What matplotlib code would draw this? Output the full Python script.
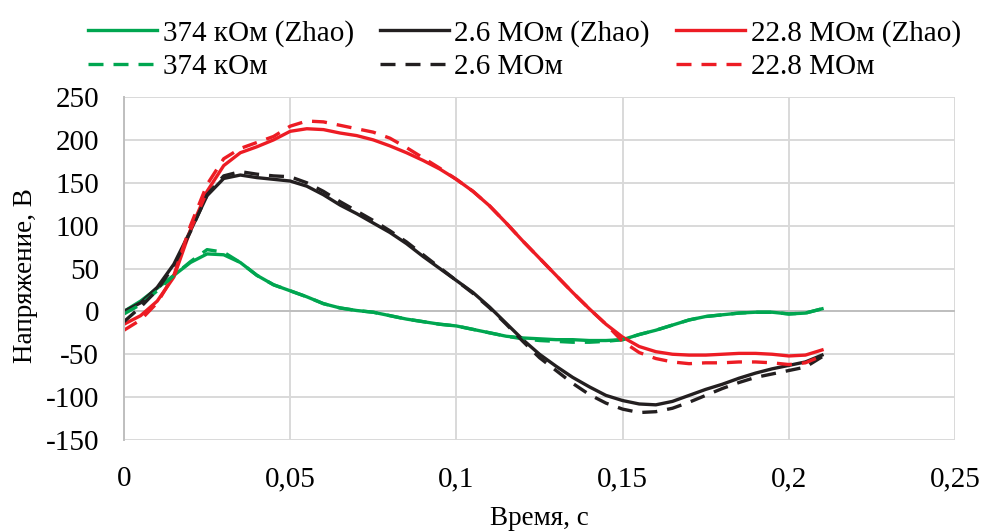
import matplotlib
matplotlib.use("Agg")
import matplotlib.pyplot as plt

plt.rcParams['font.family'] = ['Liberation Serif', 'DejaVu Serif']

# Time axis (s)
t = [0.000, 0.005, 0.010, 0.015, 0.020, 0.025, 0.030, 0.035, 0.040, 0.045,
     0.050, 0.055, 0.060, 0.065, 0.070, 0.075, 0.080, 0.085, 0.090, 0.095,
     0.100, 0.105, 0.110, 0.115, 0.120, 0.125, 0.130, 0.135, 0.140, 0.145,
     0.150, 0.155, 0.160, 0.165, 0.170, 0.175, 0.180, 0.185, 0.190, 0.195,
     0.200, 0.205, 0.210]

# Voltage (V), Zhao model
v_374k_zhao = [0, 12, 27, 42, 57, 67, 66, 57, 42, 31,
               24, 17, 9, 4, 1, -1, -5, -9, -12, -15,
               -17, -21, -25, -29, -31, -32, -33, -33, -34, -34,
               -33, -27, -22, -16, -10, -6, -4, -2, -1, -1,
               -3, -2, 3]
v_2_6M_zhao = [0, 10, 28, 55, 94, 135, 155, 159, 156, 154,
               152, 146, 136, 124, 114, 103, 92, 79, 64, 50,
               36, 22, 5, -14, -33, -50, -64, -77, -88, -98,
               -104, -108, -109, -105, -98, -91, -85, -78, -72, -67,
               -63, -59, -51]
v_22_8M_zhao = [-15, -5, 12, 40, 95, 140, 170, 185, 192, 200,
                210, 213, 212, 208, 205, 200, 193, 185, 176, 166,
                154, 140, 123, 103, 82, 62, 42, 22, 3, -15,
                -30, -41, -47, -50, -51, -51, -50, -49, -49, -50,
                -52, -51, -45]

# Voltage (V), present model
v_374k = [-3, 8, 24, 42, 58, 72, 69, 57, 42, 31,
          24, 17, 9, 4, 1, -1, -5, -9, -12, -15,
          -17, -21, -25, -29, -32, -34, -35, -36, -36, -35,
          -33, -27, -22, -16, -10, -6, -4, -2, -1, -1,
          -3, -2, 3]
v_2_6M = [-12, 5, 25, 53, 93, 136, 158, 163, 160, 158,
          157, 150, 140, 128, 117, 106, 94, 81, 66, 51,
          36, 21, 4, -15, -35, -54, -69, -84, -97, -107,
          -114, -118, -117, -113, -106, -98, -90, -83, -77, -73,
          -69, -65, -53]
v_22_8M = [-22, -10, 10, 42, 100, 148, 178, 190, 197, 204,
           216, 222, 221, 217, 213, 209, 202, 191, 179, 167,
           154, 140, 123, 103, 82, 62, 42, 22, 3, -15,
           -35, -48, -55, -59, -61, -60, -60, -59, -59, -60,
           -62, -60, -52]

x_ticks = [0, 0.05, 0.1, 0.15, 0.2, 0.25]
x_tick_labels = ["0", "0,05", "0,1", "0,15", "0,2", "0,25"]
y_ticks = [-150, -100, -50, 0, 50, 100, 150, 200, 250]
y_tick_labels = ["-150", "-100", "-50", "0", "50", "100", "150", "200", "250"]

GREEN = "#00A650"
BLACK = "#231F20"
RED = "#ED1C24"

TICK_FS = 21
LABEL_FS = 19.5

fig = plt.figure(figsize=(9.84, 5.31), dpi=100)
ax = fig.add_axes([0.126, 0.1714, 0.8445, 0.6459])

lw = 2.4
dash = (0, (4.5, 3))
h1, = ax.plot(t, v_374k_zhao, color=GREEN, lw=lw, label="374 кОм (Zhao)")
h2, = ax.plot(t, v_2_6M_zhao, color=BLACK, lw=lw, label="2.6 MOм (Zhao)")
h3, = ax.plot(t, v_22_8M_zhao, color=RED, lw=lw, label="22.8 MOм (Zhao)")
h4, = ax.plot(t, v_374k, color=GREEN, lw=lw, ls=dash, label="374 кОм")
h5, = ax.plot(t, v_2_6M, color=BLACK, lw=lw, ls=dash, label="2.6 MOм")
h6, = ax.plot(t, v_22_8M, color=RED, lw=lw, ls=dash, label="22.8 MOм")

ax.set_xlim(0, 0.25)
ax.set_ylim(-150, 250)
ax.set_xticks(x_ticks)
ax.set_xticklabels(x_tick_labels)
ax.set_yticks(y_ticks)
ax.set_yticklabels(y_tick_labels)
ax.tick_params(axis='both', length=0, labelsize=TICK_FS, colors='black')
ax.tick_params(axis='x', pad=19)
ax.tick_params(axis='y', pad=18)

ax.grid(True, color="#D9D9D9", lw=1.4, zorder=0)
ax.set_axisbelow(True)
for side in ("top", "right", "bottom"):
    ax.spines[side].set_visible(False)
ax.spines["left"].set_color("#BFBFBF")
ax.spines["left"].set_linewidth(1.4)
ax.axhline(0, color="#BFBFBF", lw=1.4, zorder=1)

ax.set_xlabel("Время, с", fontsize=LABEL_FS, labelpad=10)
ax.set_ylabel("Напряжение, В", fontsize=LABEL_FS, labelpad=3)
ax.yaxis.set_label_coords(-0.104, 0.48)

# legend filled column by column: solid on top row, dashed below
handles = [h1, h4, h2, h5, h3, h6]
labels = [h.get_label() for h in handles]
fig.legend(handles, labels, loc="upper center", bbox_to_anchor=(0.533, 1.012),
           ncol=3, frameon=False, fontsize=TICK_FS, handlelength=2.35,
           handletextpad=0.2, columnspacing=0.9, labelspacing=0.23)

fig.savefig("out.png", dpi=100)
